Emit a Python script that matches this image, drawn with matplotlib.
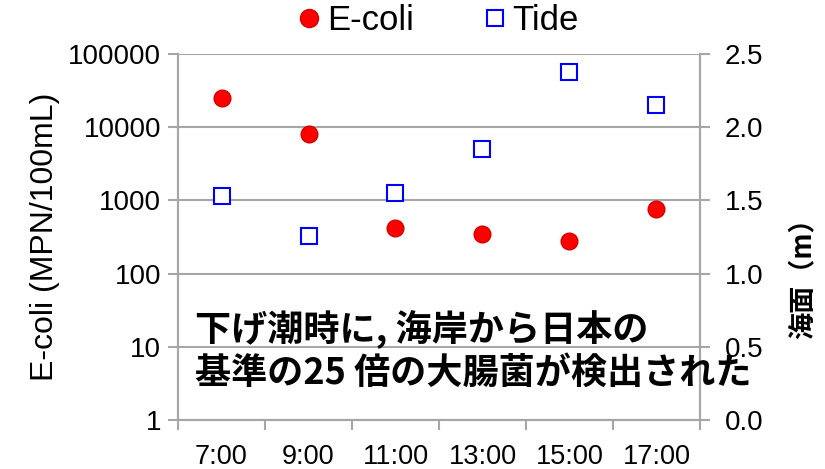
import matplotlib
matplotlib.use("Agg")
import matplotlib.pyplot as plt
from matplotlib.ticker import FixedLocator, NullFormatter, FuncFormatter
from matplotlib.lines import Line2D

plt.rcParams['font.family'] = ['Liberation Sans', 'Noto Sans CJK JP', 'DejaVu Sans']

times = ["7:00", "9:00", "11:00", "13:00", "15:00", "17:00"]
ecoli = [24700, 8200, 423, 350, 283, 760]
tide = [1.53, 1.26, 1.55, 1.85, 2.38, 2.155]
left_ticks = [1, 10, 100, 1000, 10000, 100000]
right_ticks = [0.0, 0.5, 1.0, 1.5, 2.0, 2.5]
note_line1 = "下げ潮時に, 海岸から日本の"
note_line2 = "基準の25 倍の大腸菌が検出された"

GRID = '#a6a6a6'

fig = plt.figure(figsize=(8.25, 4.69), dpi=100)
ax = fig.add_axes([178/825, 1-420/469, (700-178)/825, (420-54)/469])
ax2 = ax.twinx()

x = list(range(len(times)))

ax.set_yscale('log')
ax.set_ylim(1, 100000)
ax.set_xlim(-0.5, len(times) - 0.5)
ax.yaxis.set_major_locator(FixedLocator(left_ticks))
ax.yaxis.set_minor_locator(FixedLocator([]))
ax.yaxis.set_major_formatter(FuncFormatter(lambda v, p: f"{int(round(v))}"))
ax.grid(True, axis='y', color=GRID, linewidth=1.5, zorder=0)
ax.set_axisbelow(True)

ax.xaxis.set_major_locator(FixedLocator([i - 0.5 for i in range(len(times) + 1)]))
ax.xaxis.set_major_formatter(NullFormatter())
ax.xaxis.set_minor_locator(FixedLocator(x))
ax.set_xticks(x, times, minor=True)
ax.tick_params(axis='x', which='major', length=7, width=1.5, color=GRID, direction='out')
ax.tick_params(axis='x', which='minor', length=0, pad=17, labelsize=19.5)
ax.tick_params(axis='y', which='major', length=7, width=1.5, color=GRID, labelsize=20, pad=5)

ax2.set_ylim(0, 2.5)
ax2.yaxis.set_major_locator(FixedLocator(right_ticks))
ax2.yaxis.set_major_formatter(FuncFormatter(lambda v, p: f"{v:.1f}"))
ax2.tick_params(axis='y', length=7, width=1.5, color=GRID, labelsize=20, pad=11)

for a in (ax, ax2):
    for s in a.spines.values():
        s.set_color(GRID)
        s.set_linewidth(1.5)
    a.spines['top'].set_visible(False)

ax.plot(x, ecoli, linestyle='none', marker='o', markersize=12,
        markerfacecolor='#ff0000', markeredgecolor='#d40000', markeredgewidth=1, zorder=5,
        clip_on=False)
ax2.plot(x, tide, linestyle='none', marker='s', markersize=12,
         markerfacecolor='white', markeredgecolor='#0000ff', markeredgewidth=1.5, zorder=5,
         clip_on=False)

ax.set_ylabel("E-coli (MPN/100mL)", fontsize=23, labelpad=6)
fig.text(802/825, 1-272/469, "海面（m）", rotation=90, fontsize=19.5, fontweight='bold',
         family=['Noto Sans CJK JP', 'DejaVu Sans'], ha='center', va='center')

fig.text(195/825, 1-330/469, note_line1, fontsize=26, fontweight='bold',
         family=['Noto Sans CJK JP', 'DejaVu Sans'], ha='left', va='center')
fig.text(195/825, 1-373/469, note_line2, fontsize=26, fontweight='bold',
         family=['Noto Sans CJK JP', 'DejaVu Sans'], ha='left', va='center')

handles = [
    Line2D([], [], linestyle='none', marker='o', markersize=13,
           markerfacecolor='#ff0000', markeredgecolor='#d40000', label='E-coli'),
    Line2D([], [], linestyle='none', marker='s', markersize=12,
           markerfacecolor='white', markeredgecolor='#0000ff', markeredgewidth=1.5, label='Tide'),
]
fig.legend(handles=handles, loc='center', bbox_to_anchor=(439/825, 1-21/469), ncol=2,
           frameon=False, fontsize=25, handlelength=0.6, handletextpad=0.2,
           columnspacing=2.05, borderaxespad=0)

fig.savefig("out.png", dpi=100)
